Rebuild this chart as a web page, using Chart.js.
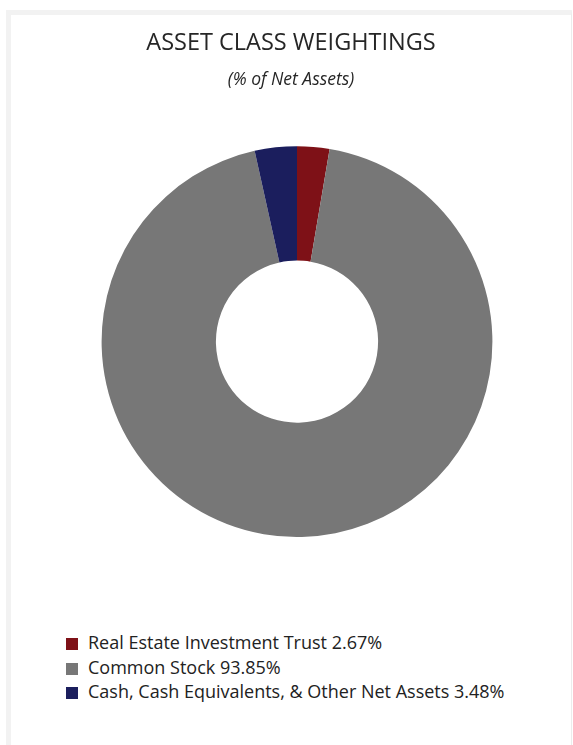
<!DOCTYPE html>
<html>
<head>
<meta charset="utf-8">
<script src="https://cdn.jsdelivr.net/npm/chart.js@4/dist/chart.umd.min.js"></script>
<style>
  html, body { margin: 0; padding: 0; background: #fff; }
  body { width: 573px; height: 745px; position: relative; overflow: hidden; font-family: "Open Sans", sans-serif; }
  #frame {
    position: absolute; left: 6px; top: 10px; width: 560px; height: 740px;
    border-top: 5px solid #f2f2f2; border-left: 5px solid #f2f2f2; border-right: 1px solid #ececec;
  }
  #wrap { position: absolute; left: 11px; top: 15px; width: 560px; height: 522px; }
  #legend { position: absolute; left: 66px; top: 630px; margin: 0; padding: 0; list-style: none; }
  #legend li { height: 24.5px; line-height: 24.5px; font-size: 18px; color: #222; white-space: nowrap; }
  #legend .sw { display: inline-block; width: 12px; height: 12px; margin-right: 10px; vertical-align: -1px; }
</style>
</head>
<body>
<div id="frame"></div>
<div id="wrap"><canvas id="chart"></canvas></div>
<ul id="legend"></ul>
<script>
// Asset class weightings, percent of net assets
const categories = [
  "Real Estate Investment Trust",
  "Common Stock",
  "Cash, Cash Equivalents, & Other Net Assets"
];
const weights = [2.67, 93.85, 3.48];
const sliceColors = ["#7e1117", "#777777", "#1b1e5d"];

// nudge the plot area right so the ring sits slightly off the title's axis
const shiftPlot = {
  id: "shiftPlot",
  afterLayout(chart) {
    chart.chartArea.left += 12;
    chart.chartArea.width = chart.chartArea.right - chart.chartArea.left;
  }
};

const chart = new Chart(document.getElementById("chart"), {
  type: "doughnut",
  data: {
    labels: categories,
    datasets: [{
      data: weights,
      backgroundColor: sliceColors,
      borderWidth: 0,
      hoverOffset: 0
    }]
  },
  options: {
    responsive: true,
    maintainAspectRatio: false,
    animation: false,
    cutout: "41.5%",
    layout: { padding: 0 },
    plugins: {
      legend: { display: false },
      tooltip: { enabled: false },
      title: {
        display: true,
        text: "ASSET CLASS WEIGHTINGS",
        color: "#262626",
        font: { family: "'Open Sans', sans-serif", size: 23.5, weight: "normal" },
        padding: { top: 14, bottom: 5 }
      },
      subtitle: {
        display: true,
        text: "(% of Net Assets)",
        color: "#262626",
        font: { family: "'Open Sans', sans-serif", size: 17.5, style: "italic", weight: "normal" },
        padding: { top: 7, bottom: 56 }
      }
    }
  },
  plugins: [shiftPlot]
});

// legend list built from the chart's own legend items
const legendEl = document.getElementById("legend");
chart.options.plugins.legend.labels.generateLabels(chart).forEach((item, i) => {
  const li = document.createElement("li");
  const sw = document.createElement("span");
  sw.className = "sw";
  sw.style.background = item.fillStyle;
  li.appendChild(sw);
  li.appendChild(document.createTextNode(categories[i] + " " + weights[i].toFixed(2) + "%"));
  legendEl.appendChild(li);
});
</script>
</body>
</html>
